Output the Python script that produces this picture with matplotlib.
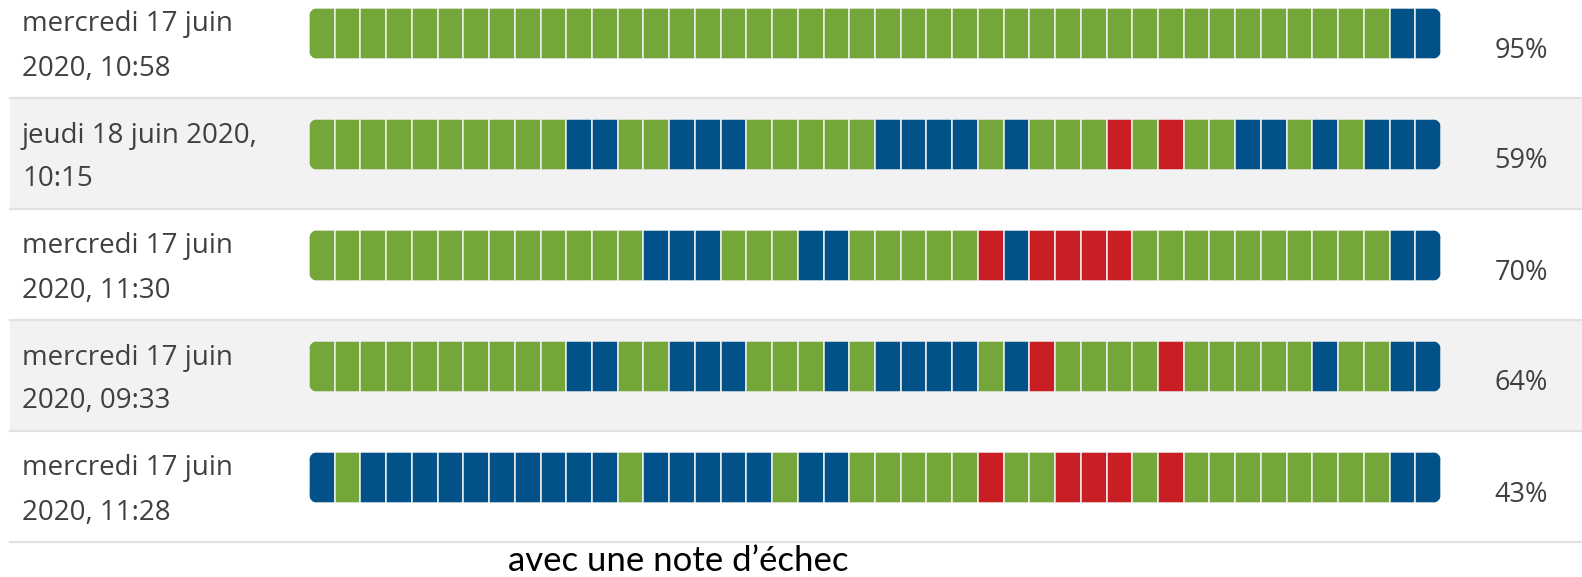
import matplotlib
matplotlib.use("Agg")
import matplotlib.pyplot as plt
from matplotlib.patches import FancyBboxPatch, Rectangle

# ---------------- data ----------------
date_line1 = ["mercredi 17 juin", "jeudi 18 juin 2020,", "mercredi 17 juin",
              "mercredi 17 juin", "mercredi 17 juin"]
date_line2 = ["2020, 10:58", "10:15", "2020, 11:30", "2020, 09:33", "2020, 11:28"]
scores = ["95%", "59%", "70%", "64%", "43%"]
# G = correct, B = partially correct, R = incorrect (one letter per question)
results = [
    "GGGGGGGGGG GGGGGGGGGG GGGGGGGGGG GGGGGGGGGG GG BB",
    "GGGGGGGGGG BB GG BBB GGGGG BBBB G B GGG R G R GG BB G B G BBB",
    "GGGGGGGGGGGGG BBB GGG BB GGGGG R B RRRR GGGGGGGGGG BB",
    "GGGGGGGGGG BB GG BBB GGG B G BBBB G B R GGGG R GGGGG B GG BB",
    "B G BBBBBBBBBB G BBBBB G BB GGGGG R GG RRR G R GGGGGGGG BB",
]
caption = "avec une note d\u2019échec"
results = [r.replace(" ", "") for r in results]

# ---------------- style ----------------
colors = {"G": "#75a63a", "B": "#025188", "R": "#c91e23"}
W, H = 1582, 577
bar_x0, bar_x1 = 309, 1441
row_pitch = 111
bar_top0, bar_h = 8, 51
font = ["Open Sans", "DejaVu Sans"]

fig = plt.figure(figsize=(W / 100, H / 100), dpi=100)
bg = fig.add_axes([0, 0, 1, 1])
bg.set_xlim(0, W)
bg.set_ylim(H, 0)
bg.axis("off")

n_q = len(results[0])
cell_w = (bar_x1 - bar_x0) / n_q
bars = fig.add_axes([0, 0, 1, 1], sharey=bg)
bars.set_xlim(-bar_x0 / cell_w, (W - bar_x0) / cell_w)
bars.axis("off")
bars.patch.set_alpha(0)

for k in range(len(results)):
    row_top = -13 + k * row_pitch
    if k % 2 == 1:
        bg.add_patch(Rectangle((10, row_top), W - 10, row_pitch,
                               facecolor="#f2f2f2", edgecolor="none", zorder=0))
    # separator line below row
    bg.plot([10, W], [98 + k * row_pitch] * 2, color="#dee2e6", lw=1.6, zorder=1)

    top = bar_top0 + k * row_pitch
    clip = FancyBboxPatch((bar_x0, top), bar_x1 - bar_x0, bar_h,
                          boxstyle="round,pad=0,rounding_size=10",
                          transform=bg.transData, facecolor="none", edgecolor="none")
    bg.add_patch(clip)
    seq = results[k]
    cont = bars.barh([top + bar_h / 2] * n_q, [1] * n_q, left=list(range(n_q)),
                     height=bar_h, color=[colors[c] for c in seq],
                     edgecolor="#eeeeee", linewidth=1.1, zorder=2)
    for p in cont.patches:
        p.set_clip_path(clip)

    bg.text(22, 31.5 + k * row_pitch, date_line1[k], fontsize=20, family=font,
            color="#404040", va="baseline", ha="left")
    bg.text(22, 75.5 + k * row_pitch, date_line2[k], fontsize=20, family=font,
            color="#404040", va="baseline", ha="left")
    bg.text(1521, 57.5 + k * row_pitch, scores[k], fontsize=19.5, family=font,
            color="#404040", va="baseline", ha="center")

bg.text(678, 571, caption, fontsize=25, family=["Lato", "DejaVu Sans"],
        color="#000000", va="baseline", ha="center")

fig.savefig("out.png", dpi=100)
